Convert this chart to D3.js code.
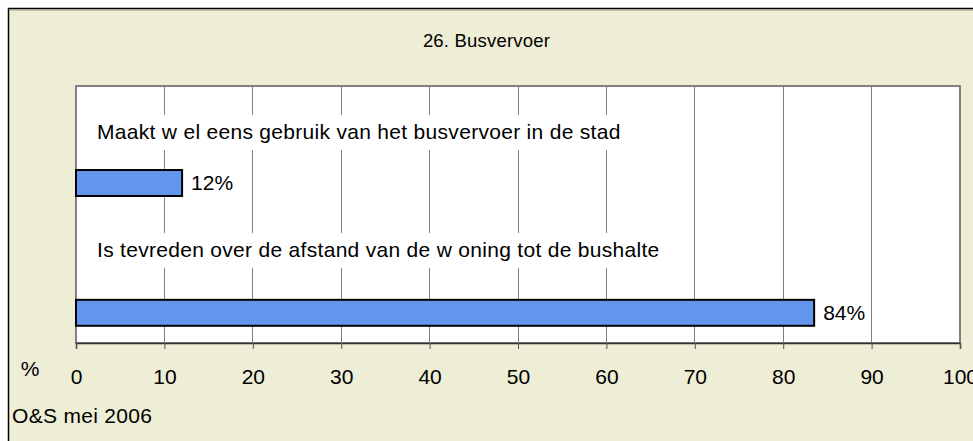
<!DOCTYPE html>
<html>
<head>
  <title>26. Busvervoer</title>
  <script src="https://d3js.org/d3.v7.min.js"></script>
  <style>
    body { margin: 0; background: #fff; }
    text { font-family: "Liberation Sans", Arial, sans-serif; fill: #000; }
  </style>
</head>
<body>
<script type="text/javascript">
// data
var categories = ["Maakt w el eens gebruik van het busvervoer in de stad",
                  "Is tevreden over de afstand van de w oning tot de bushalte"];
var values = [12, 83.5];
var valueLabels = ["12%", "84%"];
var ticks = [0, 10, 20, 30, 40, 50, 60, 70, 80, 90, 100];

var W = 973, H = 441;
var plot = {left: 76, top: 86, right: 960, bottom: 343};

var svg = d3.select("body")
            .append("svg")
            .attr("width", W)
            .attr("height", H);

// outer frame (runs off the right and bottom edge)
svg.append("rect")
   .attr("x", 8.5).attr("y", 8.5)
   .attr("width", 1000).attr("height", 500)
   .attr("fill", "#eeedd6")
   .attr("stroke", "#000")
   .attr("stroke-width", 1.5);
svg.append("line")
   .attr("x1", 9).attr("x2", W).attr("y1", 10).attr("y2", 10)
   .attr("stroke", "#9a9a90").attr("stroke-width", 1);

//scales
var x = d3.scaleLinear()
          .domain([0, 100])
          .range([plot.left, plot.right]);
var y = d3.scaleBand()
          .domain(categories)
          .range([plot.top, plot.bottom])
          .paddingInner(0.8)
          .paddingOuter(0.39)
          .align(0.83);
var labelY = d3.scalePoint()
               .domain(categories)
               .range([139, 257]);

svg.append("rect")
   .attr("x", plot.left).attr("y", plot.top)
   .attr("width", plot.right - plot.left)
   .attr("height", plot.bottom - plot.top)
   .attr("fill", "#fff");

// gridlines
svg.append("g")
   .selectAll("line")
   .data(ticks.slice(1, -1))
   .enter()
   .append("line")
   .attr("x1", function(d){return x(d);})
   .attr("x2", function(d){return x(d);})
   .attr("y1", plot.top)
   .attr("y2", plot.bottom)
   .attr("stroke", "#808080")
   .attr("stroke-width", 1)
   .attr("shape-rendering", "crispEdges");

// category labels with white box
var lab = svg.append("g")
             .selectAll("g")
             .data(categories)
             .enter()
             .append("g");
var labText = lab.append("text")
   .attr("x", 97)
   .attr("y", function(d){return labelY(d);})
   .style("font-size", "21px")
   .style("letter-spacing", "0.3px")
   .text(function(d){return d;});
lab.insert("rect", "text")
   .attr("x", 88)
   .attr("y", function(d){return labelY(d) - 24;})
   .attr("height", 35)
   .attr("width", function(d, i){return labText.nodes()[i].getComputedTextLength() + 18;})
   .attr("fill", "#fff");

// plot border
svg.append("rect")
   .attr("x", plot.left).attr("y", plot.top)
   .attr("width", plot.right - plot.left)
   .attr("height", plot.bottom - plot.top)
   .attr("fill", "none")
   .attr("stroke", "#808080")
   .attr("stroke-width", 2);

// bars
svg.append("g")
   .selectAll("rect")
   .data(values)
   .enter()
   .append("rect")
   .attr("x", x(0))
   .attr("y", function(d, i){return y(categories[i]);})
   .attr("width", function(d){return x(d) - x(0);})
   .attr("height", y.bandwidth())
   .attr("fill", "#6495ed")
   .attr("stroke", "#000")
   .attr("stroke-width", 2);

svg.append("g")
   .selectAll("text")
   .data(values)
   .enter()
   .append("text")
   .attr("x", function(d){return x(d) + 9;})
   .attr("y", function(d, i){return y(categories[i]) + y.bandwidth()/2 + 7;})
   .style("font-size", "21px")
   .text(function(d, i){return valueLabels[i];});

// x axis
var axis = svg.append("g")
   .attr("transform", "translate(0," + plot.bottom + ")")
   .call(d3.axisBottom(x).tickValues(ticks).tickSize(6).tickPadding(20));
axis.select(".domain").attr("stroke", "#333").attr("stroke-width", 1.5);
axis.selectAll(".tick line").attr("stroke", "#555");
axis.selectAll(".tick text")
    .style("font-size", "21px")
    .style("font-family", "'Liberation Sans', Arial, sans-serif")
    .attr("fill", "#000");

svg.append("text")
   .attr("x", 30).attr("y", 376)
   .attr("text-anchor", "middle")
   .style("font-size", "21px")
   .text("%");

svg.append("text")
   .attr("x", W/2).attr("y", 47)
   .attr("text-anchor", "middle")
   .style("font-size", "18.5px")
   .style("letter-spacing", "0.2px")
   .text("26. Busvervoer");

svg.append("text")
   .attr("x", 12).attr("y", 423)
   .style("font-size", "21px")
   .style("letter-spacing", "0.3px")
   .text("O&S mei 2006");
</script>
</body>
</html>
